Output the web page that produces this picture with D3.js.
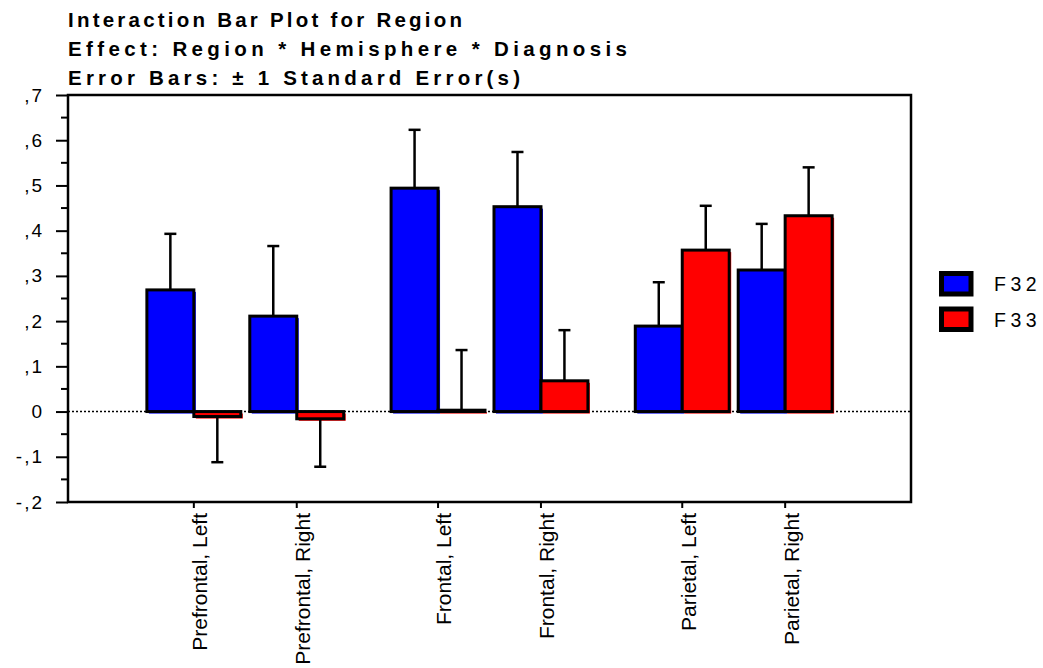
<!DOCTYPE html>
<html>
<head>
<meta charset="utf-8">
<style>
  body { margin: 0; background: #fff; }
  text { font-family: "Liberation Sans", Arial, sans-serif; fill: #000; }
  .title { font-size: 20.5px; font-weight: bold; }
  .y-label { font-size: 19px; letter-spacing: 2px; }
  .x-label { font-size: 21px; }
  .legend-label { font-size: 19.5px; letter-spacing: 4.5px; }
</style>
</head>
<body>
<div id="chart-area"></div>

<script src="https://cdnjs.cloudflare.com/ajax/libs/d3/7.8.5/d3.min.js"></script>
<script>
    // data (order: Prefrontal L/R, Frontal L/R, Parietal L/R)
    const regions = ["Prefrontal", "Frontal", "Parietal"];
    const hemispheres = ["Left", "Right"];
    const diagnoses = ["F32", "F33"];
    const f32Mean = [0.269, 0.211, 0.494, 0.453, 0.189, 0.313];
    const f32Se   = [0.124, 0.155, 0.129, 0.121, 0.097, 0.102];
    const f33Mean = [-0.011, -0.016, 0.003, 0.068, 0.357, 0.433];
    const f33Se   = [0.101, 0.106, 0.133, 0.112, 0.098, 0.107];
    const yTicks = [-0.2, -0.1, 0, 0.1, 0.2, 0.3, 0.4, 0.5, 0.6, 0.7];
    const titles = [
        "Interaction Bar Plot for Region",
        "Effect: Region * Hemisphere * Diagnosis",
        "Error Bars: \u00b1 1 Standard Error(s)"
    ];
    const titleWidths = [394, 559, 452]; // stretched like the original
    const colors = { F32: "#0000ff", F33: "#ff0000" };

    const width = 1043, height = 668;
    const mLeft = 68, mRight = 911, mTop = 95, mBottom = 502;

    const svg = d3.select("#chart-area")
        .append("svg")
            .attr("width", width)
            .attr("height", height);

    // build rows from the arrays
    const rows = [];
    regions.forEach((r, ri) => {
        hemispheres.forEach((h, hi) => {
            const i = ri * 2 + hi;
            rows.push({ region: r, hemi: h, diag: "F32", mean: f32Mean[i], se: f32Se[i] });
            rows.push({ region: r, hemi: h, diag: "F33", mean: f33Mean[i], se: f33Se[i] });
        });
    });

    const x0 = d3.scaleBand().domain(regions).range([mLeft, mRight])
        .paddingInner(0.194).paddingOuter(0.323);
    const x1 = d3.scaleBand().domain(hemispheres).range([0, x0.bandwidth()])
        .paddingInner(0.0874);
    const x2 = d3.scaleBand().domain(diagnoses).range([0, x1.bandwidth()]);
    const y = d3.scaleLinear().domain([-0.2, 0.7]).range([mBottom, mTop]);

    const fmt = v => {
        if (Math.abs(v) < 1e-9) return "0";
        return d3.format(".1f")(v).replace("0.", ",").replace("−", "-");
    };

    // titles
    svg.selectAll(".title")
        .data(titles)
        .enter().append("text")
            .attr("class", "title")
            .attr("x", mLeft)
            .attr("y", (d, i) => 27 + i * 29)
            .attr("textLength", (d, i) => titleWidths[i])
            .attr("lengthAdjust", "spacing")
            .text(d => d);

    // zero line
    svg.append("line")
        .attr("x1", mLeft).attr("x2", mRight)
        .attr("y1", y(0)).attr("y2", y(0))
        .attr("stroke", "#000")
        .attr("stroke-width", 1.5)
        .attr("stroke-dasharray", "2,2");

    const bx = d => x0(d.region) + x1(d.hemi) + x2(d.diag);

    // colour shadow offset
    svg.selectAll(".shadow")
        .data(rows)
        .enter().append("rect")
            .attr("x", d => bx(d) + 2)
            .attr("y", d => Math.min(y(d.mean), y(0)) + 2)
            .attr("width", x2.bandwidth())
            .attr("height", d => Math.abs(y(d.mean) - y(0)))
            .attr("fill", d => colors[d.diag]);

    svg.selectAll(".bar")
        .data(rows)
        .enter().append("rect")
            .attr("x", d => bx(d))
            .attr("y", d => Math.min(y(d.mean), y(0)))
            .attr("width", x2.bandwidth())
            .attr("height", d => Math.abs(y(d.mean) - y(0)))
            .attr("fill", d => colors[d.diag])
            .attr("stroke", "#000")
            .attr("stroke-width", 3);

    // error bars, one side only
    const eb = svg.selectAll(".err")
        .data(rows)
        .enter().append("g");
    const tipY = d => y(d.mean >= 0 ? d.mean + d.se : d.mean - d.se);
    eb.append("line")
        .attr("x1", d => bx(d) + x2.bandwidth() / 2)
        .attr("x2", d => bx(d) + x2.bandwidth() / 2)
        .attr("y1", d => y(d.mean))
        .attr("y2", tipY)
        .attr("stroke", "#000").attr("stroke-width", 2.5);
    eb.append("line")
        .attr("x1", d => bx(d) + x2.bandwidth() / 2 - 6)
        .attr("x2", d => bx(d) + x2.bandwidth() / 2 + 6)
        .attr("y1", tipY).attr("y2", tipY)
        .attr("stroke", "#000").attr("stroke-width", 2.5);

    // frame
    svg.append("rect")
        .attr("x", mLeft).attr("y", mTop)
        .attr("width", mRight - mLeft).attr("height", mBottom - mTop)
        .attr("fill", "none")
        .attr("stroke", "#000")
        .attr("stroke-width", 2.5);

    // y axis with minor ticks
    const yAxis = d3.axisLeft(y).tickValues(yTicks).tickSize(12).tickFormat(fmt);
    const ya = svg.append("g")
        .attr("transform", `translate(${mLeft},0)`)
        .call(yAxis);
    ya.attr("font-size", null).attr("font-family", null);
    ya.select(".domain").remove();
    ya.selectAll("line").attr("stroke-width", 2);
    ya.selectAll("text").attr("class", "y-label").attr("x", -24);
    const minor = d3.range(-0.15, 0.7, 0.1);
    svg.selectAll(".minor")
        .data(minor)
        .enter().append("line")
            .attr("x1", mLeft - 7).attr("x2", mLeft)
            .attr("y1", d => y(d)).attr("y2", d => y(d))
            .attr("stroke", "#000").attr("stroke-width", 2);

    // x ticks and rotated labels
    const cats = [];
    regions.forEach(r => hemispheres.forEach(h => cats.push({ region: r, hemi: h })));
    const cx = d => x0(d.region) + x1(d.hemi) + x1.bandwidth() / 2;
    svg.selectAll(".xtick")
        .data(cats)
        .enter().append("line")
            .attr("x1", cx).attr("x2", cx)
            .attr("y1", mBottom).attr("y2", mBottom + 6)
            .attr("stroke", "#000").attr("stroke-width", 2);
    svg.selectAll(".xlabel")
        .data(cats)
        .enter().append("text")
            .attr("class", "x-label")
            .attr("transform", d => `translate(${cx(d) + 6},${mBottom + 11}) rotate(-90)`)
            .attr("dy", "0.35em")
            .attr("text-anchor", "end")
            .text(d => d.region + ", " + d.hemi);

    // legend
    const lg = svg.selectAll(".legend")
        .data(diagnoses)
        .enter().append("g")
            .attr("transform", (d, i) => `translate(939,${271 + i * 35.5})`);
    lg.append("rect")
        .attr("x", 2.5).attr("y", 2.5)
        .attr("width", 29.5).attr("height", 20.5)
        .attr("fill", d => colors[d])
        .attr("stroke", "#000")
        .attr("stroke-width", 5);
    lg.append("text")
        .attr("class", "legend-label")
        .attr("x", 55).attr("y", 20)
        .text(d => d);
</script>
</body>
</html>
